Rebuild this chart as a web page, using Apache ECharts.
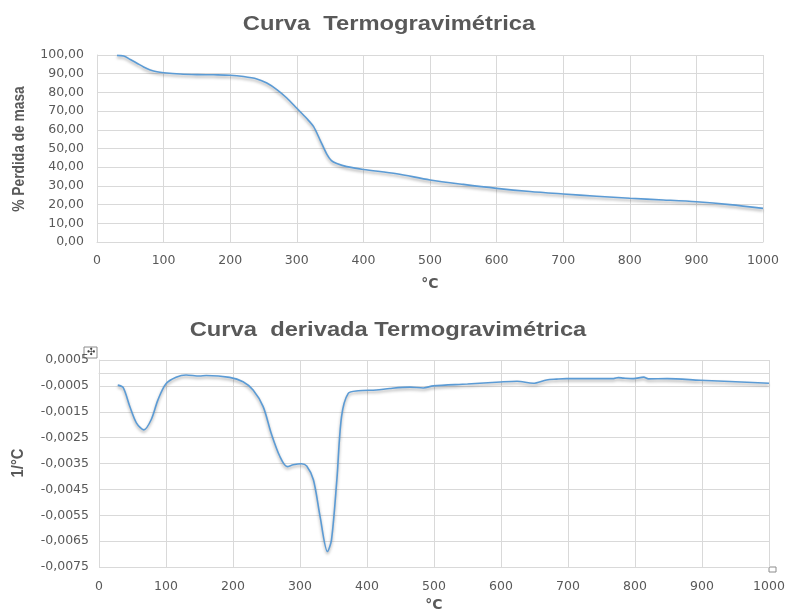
<!DOCTYPE html>
<html>
<head>
<meta charset="utf-8">
<script src="https://cdn.jsdelivr.net/npm/echarts@6/dist/echarts.min.js"></script>
<style>
  html, body { margin: 0; padding: 0; background: #ffffff; }
  #chart { width: 786px; height: 611px; }
</style>
</head>
<body>
<div id="chart"></div>
<script>
// Thermogravimetric curve: temperature (°C) vs. % mass
const tgTemp = [30, 40, 50, 60, 70, 80, 90, 100, 125, 150, 175, 200, 220, 240, 255, 270, 285, 300, 315, 325, 335, 345, 352, 360, 375, 400, 450, 500, 550, 600, 650, 700, 750, 800, 850, 900, 950, 1000];
const tgMass = [99.8, 99.5, 97.6, 95.6, 93.6, 92.0, 91.0, 90.5, 89.8, 89.5, 89.4, 89.2, 88.5, 87.2, 85.0, 81.5, 77.0, 71.5, 66.0, 61.8, 54.5, 47.0, 43.5, 42.0, 40.3, 38.8, 36.5, 33.2, 30.8, 28.7, 27.0, 25.7, 24.5, 23.4, 22.5, 21.5, 20.0, 18.0];

// Derivative curve: temperature (°C) vs. 1/°C
const dtgTemp = [28, 36, 46, 56, 67, 78, 88, 100, 115, 130, 150, 160, 195, 215, 230, 245, 257, 270, 281, 290, 302, 310, 320, 330, 341, 347, 355, 362, 372, 387, 414, 434, 464, 484, 499, 550, 599, 624, 648, 668, 683, 698, 768, 775, 783, 798, 813, 820, 848, 897, 1000];
const dtgRate = [-0.00047, -0.00056, -0.00130, -0.00194, -0.00220, -0.00180, -0.00104, -0.00042, -0.00017, -0.00008, -0.00012, -0.00010, -0.00017, -0.00034, -0.00066, -0.00130, -0.00233, -0.00323, -0.00362, -0.00355, -0.00351, -0.00360, -0.00413, -0.00555, -0.00690, -0.00645, -0.00413, -0.00169, -0.00079, -0.00069, -0.00066, -0.00060, -0.00055, -0.00058, -0.00050, -0.00043, -0.00035, -0.00032, -0.00040, -0.00027, -0.00024, -0.00022, -0.00022, -0.00018, -0.00020, -0.00022, -0.00016, -0.00023, -0.00022, -0.00028, -0.00040];

// Axis ticks
const rateTicks = [0.0005, -0.0005, -0.0015, -0.0025, -0.0035, -0.0045, -0.0055, -0.0065, -0.0075];

// Titles and axis names
const titleTop = 'Curva  Termogravimétrica';
const titleBottom = 'Curva  derivada Termogravimétrica';
const massName = '% Perdida de masa';
const rateName = '1/°C';
const tempName = '°C';

const gridColor = '#d9d9d9';
const textColor = '#595959';
const lineColor = '#5b9bd5';
const tickFont = { color: textColor, fontSize: 12.5, fontFamily: 'DejaVu Sans, sans-serif' };
const boldFont = 'Liberation Sans, Arial, sans-serif';

const comma = (v, d) => v.toFixed(d).replace('.', ',');

const chart = echarts.init(document.getElementById('chart'), null, { renderer: 'canvas' });

const lineStyle = {
  color: lineColor,
  width: 1.6,
  shadowColor: 'rgba(0,0,0,0.35)',
  shadowBlur: 3,
  shadowOffsetY: 2
};

// Wide bold heading text
function heading(text, cx, cy) {
  return {
    type: 'text', x: cx, y: cy, scaleX: 1.13, silent: true,
    style: { text: text, x: 0, y: 0, align: 'center', verticalAlign: 'middle',
             fill: textColor, fontSize: 21, fontWeight: 'bold', fontFamily: boldFont }
  };
}
// Vertical axis title, reading bottom to top
function sideName(text, cx, cy, size, squeeze) {
  return {
    type: 'text', x: cx, y: cy, rotation: Math.PI / 2, scaleX: squeeze, silent: true,
    style: { text: text, x: 0, y: 0, align: 'center', verticalAlign: 'middle',
             fill: textColor, fontSize: size, fontWeight: 'bold', fontFamily: boldFont }
  };
}

const xAxisBase = (gridIndex, gap, margin) => ({
  gridIndex: gridIndex, type: 'value', min: 0, max: 1000, interval: 100,
  name: tempName, nameLocation: 'middle', nameGap: gap,
  nameTextStyle: { color: textColor, fontSize: 14, fontWeight: 'bold', fontFamily: 'DejaVu Sans, sans-serif' },
  axisLine: { show: true, lineStyle: { color: gridColor } },
  axisTick: { show: false },
  axisLabel: Object.assign({ margin: margin, formatter: v => String(v) }, tickFont),
  splitLine: { show: true, lineStyle: { color: gridColor, width: 1 } }
});

chart.setOption({
  backgroundColor: '#ffffff',
  animation: false,
  grid: [
    { left: 97, right: 23, top: 55, bottom: 369, outerBoundsMode: 'none' },
    { left: 99, right: 17, top: 360, bottom: 44, outerBoundsMode: 'none' }
  ],
  xAxis: [
    xAxisBase(0, 35, 12),
    xAxisBase(1, 31, 13)
  ],
  yAxis: [
    {
      gridIndex: 0, type: 'value', min: 0, max: 100, interval: 10,
      axisLine: { show: true, lineStyle: { color: gridColor } },
      axisTick: { show: false },
      axisLabel: Object.assign({ margin: 13, formatter: v => comma(v, 2) }, tickFont),
      splitLine: { show: true, lineStyle: { color: gridColor, width: 1 } }
    },
    {
      gridIndex: 1, type: 'value', min: -0.0075, max: 0.0005,
      axisLine: { show: true, lineStyle: { color: gridColor } },
      axisTick: { show: false, customValues: rateTicks },
      axisLabel: Object.assign({ margin: 10, customValues: rateTicks, formatter: v => comma(v, 4) }, tickFont),
      splitLine: { show: true, lineStyle: { color: gridColor, width: 1 } }
    }
  ],
  series: [
    {
      type: 'line', xAxisIndex: 0, yAxisIndex: 0,
      data: tgTemp.map((t, i) => [t, tgMass[i]]),
      smooth: 0.3, showSymbol: false, lineStyle: lineStyle
    },
    {
      type: 'line', xAxisIndex: 1, yAxisIndex: 1,
      data: dtgTemp.map((t, i) => [t, dtgRate[i]]),
      smooth: 0.3, showSymbol: false, lineStyle: lineStyle
    }
  ],
  graphic: [
    heading(titleTop, 389, 24),
    heading(titleBottom, 388, 330),
    sideName(massName, 20, 149, 16, 0.86),
    sideName(rateName, 19, 463, 16, 0.92),
    // chart-area move handle and resize handle
    { type: 'rect', x: 84, y: 347, shape: { width: 13, height: 11 }, style: { fill: '#ffffff', stroke: '#8c8c8c', lineWidth: 1 } },
    { type: 'text', x: 90.5, y: 352.5, style: { text: '✣', x: 0, y: 0, align: 'center', verticalAlign: 'middle', fill: '#404040', fontSize: 10 } },
    { type: 'rect', x: 769, y: 567, shape: { width: 7, height: 5 }, style: { fill: '#ffffff', stroke: '#8c8c8c', lineWidth: 1 } }
  ]
});
</script>
</body>
</html>
